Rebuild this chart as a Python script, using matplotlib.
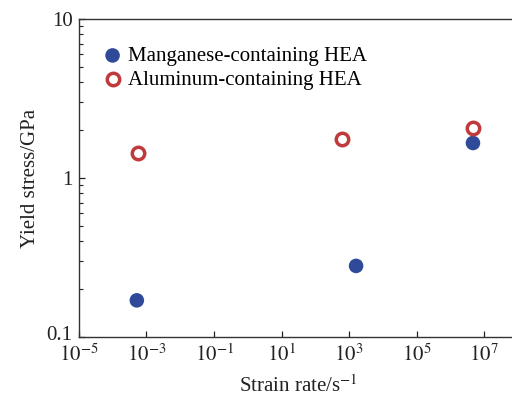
import matplotlib
matplotlib.use("Agg")
import matplotlib.pyplot as plt
import matplotlib.transforms as mtransforms
from matplotlib.ticker import LogLocator, FixedLocator, FixedFormatter, NullFormatter

plt.rcParams['font.family'] = ['Liberation Serif', 'DejaVu Serif']
plt.rcParams['mathtext.fontset'] = 'stix'

# strain rate (1/s) and yield stress (GPa)
mn_rate = [5.2e-4, 1.6e3, 4.6e6]
mn_stress = [0.17, 0.28, 1.66]
al_rate = [5.6e-4, 6.0e2, 4.6e6]
al_stress = [1.43, 1.76, 2.06]

x_ticks = [1e-5, 1e-3, 1e-1, 1e1, 1e3, 1e5, 1e7]
x_labels = ['$10^{-5}$', '$10^{-3}$', '$10^{-1}$', '$10^{1}$', '$10^{3}$', '$10^{5}$', '$10^{7}$']
y_ticks = [0.1, 1, 10]
y_labels = ['0.1', '1', '10']

fig = plt.figure(figsize=(5.12, 3.96), dpi=100)
ax = fig.add_axes([0.154, 0.149, 0.858, 0.803])

ax.scatter(mn_rate, mn_stress, s=110, c='#2f4a98', edgecolors='none',
           label='Manganese-containing HEA', zorder=3)
ax.scatter(al_rate, al_stress, s=80, facecolors='white', edgecolors='#c0393b',
           linewidths=2.5, label='Aluminum-containing HEA', zorder=3)

ax.set_xscale('log')
ax.set_yscale('log')
ax.set_xlim(1e-5, 1e8)
ax.set_ylim(0.1, 10)

ax.xaxis.set_major_locator(FixedLocator(x_ticks))
ax.xaxis.set_major_formatter(FixedFormatter(x_labels))
ax.xaxis.set_minor_locator(FixedLocator([]))
ax.yaxis.set_major_locator(FixedLocator(y_ticks))
ax.yaxis.set_major_formatter(FixedFormatter(y_labels))
ax.yaxis.set_minor_locator(LogLocator(base=10, subs=range(2, 10)))
ax.yaxis.set_minor_formatter(NullFormatter())

ax.tick_params(axis='both', which='both', direction='in', labelsize=15,
               colors='#222222')
ax.tick_params(axis='both', which='major', length=4, width=0.9)
ax.tick_params(axis='y', which='minor', length=3, width=0.8)
ax.tick_params(axis='x', pad=5.5)
ax.tick_params(axis='y', pad=4.5)

# nudge the bottom y label up so it clears the first x label
fig.canvas.draw()
bottom_lbl = ax.yaxis.get_majorticklabels()[0]
bottom_lbl.set_transform(bottom_lbl.get_transform() +
                         mtransforms.ScaledTranslation(0, 3 / 72, fig.dpi_scale_trans))

for side in ['left', 'bottom', 'top', 'right']:
    ax.spines[side].set_color('#333333')
    ax.spines[side].set_linewidth(1.0)

ax.set_xlabel('Strain rate/s$^{-1}$', fontsize=15, color='#222222', labelpad=6.5)
ax.set_ylabel('Yield stress/GPa', fontsize=15, color='#222222', labelpad=4.5)

ax.legend(loc='upper left', bbox_to_anchor=(0.008, 0.96), frameon=False,
          fontsize=15, handletextpad=0.0, labelspacing=0.2,
          borderaxespad=0.3, handlelength=1.5)

fig.savefig('out.png', dpi=100)
